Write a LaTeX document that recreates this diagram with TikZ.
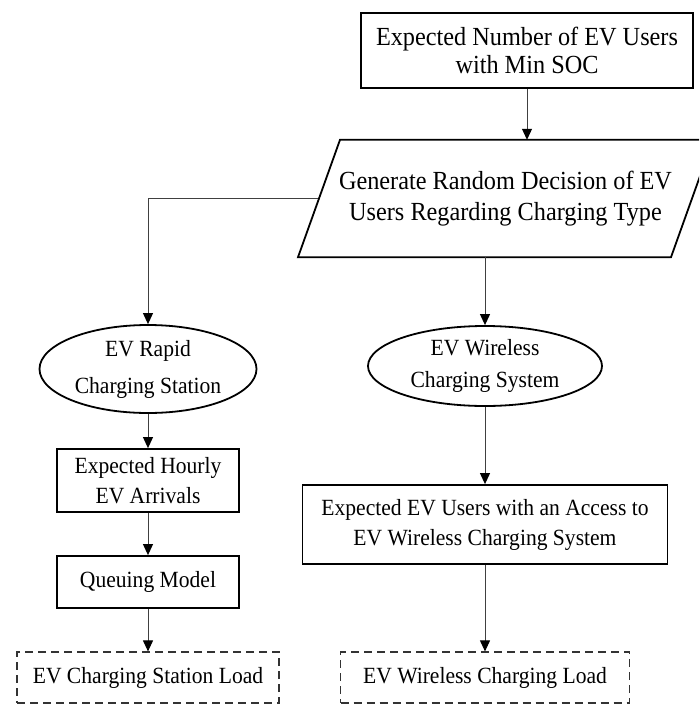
\documentclass[tikz,border=0pt]{standalone}
\usepackage{fontspec}
\setmainfont[FakeStretch=0.93]{Liberation Serif}
\usetikzlibrary{arrows.meta,shapes.geometric,calc}
\begin{document}
\begin{tikzpicture}[x=1pt,y=1pt,
  bigtext/.style={font=\fontsize{26.1}{28}\selectfont},
  txt/.style={font=\fontsize{23.2}{30}\selectfont},
  solidbox/.style={draw, line width=1.8pt, rectangle, align=center, inner sep=0pt},
  dashbox/.style={draw=black!80, line width=1.2pt, dash pattern=on 8pt off 5pt, rectangle, align=center, inner sep=0pt},
  oval/.style={draw, line width=1.8pt, ellipse, align=center, inner sep=0pt},
  conn/.style={line width=1pt, draw=black!75, -{Triangle[length=11pt,width=10pt,black]}},
]
\useasboundingbox (0,0) rectangle (699,-704);
\clip (0,0) rectangle (699,-704);

\node[solidbox, bigtext, minimum width=332pt, minimum height=75pt] (top) at (527,-50.5)
  {Expected Number of EV Users\\with Min SOC};
\node[align=center, inner sep=0pt, minimum width=331pt, minimum height=117pt,
  font=\fontsize{26.1}{31}\selectfont] (gen) at (505.5,-198.5)
  {Generate Random Decision of EV\\Users Regarding Charging Type};
\draw[line width=1.8pt, line join=miter]
  ($(gen.north)+(-165.5,0)$) -- ++(373,0) -- ($(gen.south)+(165.5,0)$) -- ++(-373,0) -- cycle;
\coordinate (genL) at ($(gen.west)+(-21,0)$);
\coordinate (genB) at ($(gen.south)+(-20.5,0)$);

\node[oval, font=\fontsize{23.2}{37}\selectfont, minimum width=217pt, minimum height=88pt] (rapid) at (148,-369)
  {EV Rapid\\Charging Station};
\node[oval, font=\fontsize{23.2}{32}\selectfont, minimum width=234pt, minimum height=80pt] (wl) at (485,-366)
  {EV Wireless\\Charging System};

\node[solidbox, txt, minimum width=182pt, minimum height=63pt] (hourly) at (148,-480.5)
  {Expected Hourly\\EV Arrivals};
\node[solidbox, txt, minimum width=182pt, minimum height=52pt] (queue) at (148,-582)
  {Queuing Model};
\node[dashbox, txt, minimum width=262pt, minimum height=51pt] (lload) at (148,-677.5)
  {EV Charging Station Load};

\node[solidbox, txt, minimum width=365pt, minimum height=79pt] (wbox) at (485,-524.5)
  {Expected EV Users with an Access to\\EV Wireless Charging System};
\node[dashbox, txt, minimum width=289pt, minimum height=51pt] (wload) at (485,-677.5)
  {EV Wireless Charging Load};

\draw[conn] (top.south) -- (top.south |- gen.north);
\draw[conn] (genL) -| (rapid.north);
\draw[conn] (genB) -- (genB |- wl.north);
\draw[conn] (rapid.south) -- (rapid.south |- hourly.north);
\draw[conn] (hourly.south) -- (hourly.south |- queue.north);
\draw[conn] (queue.south) -- (queue.south |- lload.north);
\draw[conn] (wl.south) -- (wl.south |- wbox.north);
\draw[conn] (wbox.south) -- (wbox.south |- wload.north);
\end{tikzpicture}
\end{document}
